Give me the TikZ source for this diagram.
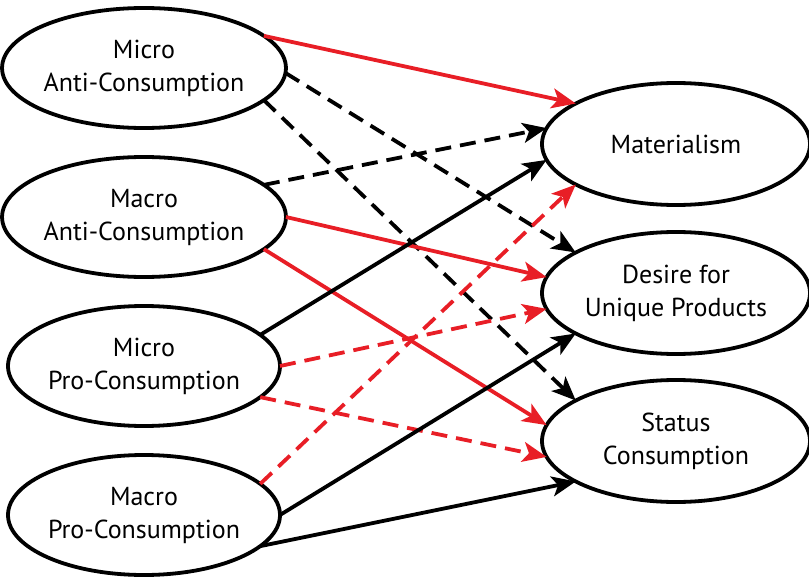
\documentclass[tikz,border=0pt]{standalone}
\usepackage{fontspec}
\setmainfont{PT Sans}
\usetikzlibrary{shapes.geometric,arrows.meta}
\definecolor{arrred}{RGB}{232,30,38}
\begin{document}
\begin{tikzpicture}[x=1pt,y=-1pt,
  box/.style={ellipse,draw,line width=3.8pt,minimum width=272pt,minimum height=120pt,inner sep=0pt,outer sep=0pt,align=center,font=\fontsize{26}{33}\selectfont},
  rbox/.style={box,minimum width=268pt,minimum height=122pt},
  conn/.style={line width=3.8pt,-{Stealth[length=24pt,width=20pt,inset=6pt]}},
  dsh/.style={dash pattern=on 16pt off 9pt},
  rs/.style={conn,color=arrred},
  rdd/.style={conn,color=arrred,dsh},
  ks/.style={conn,color=black},
  kd/.style={conn,color=black,dsh}]
\useasboundingbox (0,0) rectangle (809,578);
\node[box] (mia) at (144,68) {Micro\\Anti-Consumption};
\node[box] (maa) at (144,217) {Macro\\Anti-Consumption};
\node[box] (mip) at (144,366) {Micro\\Pro-Consumption};
\node[box] (map) at (144,515) {Macro\\Pro-Consumption};
\node[rbox] (mat) at (676,144) {Materialism};
\node[rbox] (des) at (676,293) {Desire for\\Unique Products};
\node[rbox] (sta) at (676,441) {Status\\Consumption};
\draw[rs] (mia.15) -- (mat.158);
\draw[kd] (mia.-2) -- (des.158);
\draw[kd] (mia.-15) -- (sta.158);
\draw[kd] (maa.15) -- (mat.173);
\draw[rs] (maa.0) -- (des.173);
\draw[rs] (maa.-15) -- (sta.173);
\draw[ks] (mip.15) -- (mat.187);
\draw[rdd] (mip.0) -- (des.187);
\draw[rdd] (mip.-15) -- (sta.187);
\draw[rdd] (map.15) -- (mat.202);
\draw[ks] (map.0) -- (des.202);
\draw[ks] (map.-15) -- (sta.202);
\end{tikzpicture}
\end{document}
